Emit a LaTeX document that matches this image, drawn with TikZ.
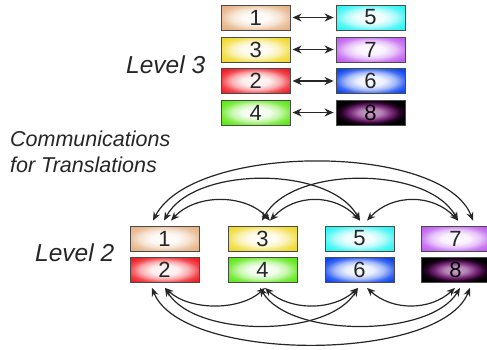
\documentclass[tikz,border=0pt]{standalone}
\usepackage{fontspec}
\setmainfont{Liberation Sans}
\usetikzlibrary{arrows.meta}
\definecolor{c1}{HTML}{E6B488}
\definecolor{c5}{HTML}{30F4F4}
\definecolor{c3}{HTML}{F0DA30}
\definecolor{c7}{HTML}{C060F0}
\definecolor{c2}{HTML}{F02028}
\definecolor{c6}{HTML}{1048F0}
\definecolor{c4}{HTML}{60E818}
\definecolor{c8mid}{HTML}{C8A0C8}
\definecolor{c8ring}{HTML}{7A2A7A}
\definecolor{c8dark}{HTML}{2A042A}
\definecolor{bordergray}{HTML}{4A4A4A}
\definecolor{txtgray}{HTML}{262626}
\colorlet{boxcol}{c1}
\pgfdeclareradialshading[boxcol]{boxrad}{\pgfpoint{0bp}{0bp}}{color(0bp)=(boxcol!3!white); color(10bp)=(boxcol!8!white); color(18bp)=(boxcol!38!white); color(25bp)=(boxcol!82!white); color(31bp)=(boxcol); color(50bp)=(boxcol)}
\pgfdeclareradialshading{blackrad}{\pgfpoint{0bp}{0bp}}{color(0bp)=(c8mid); color(8bp)=(c8mid!75!c8ring); color(15bp)=(c8ring); color(21bp)=(c8dark); color(26bp)=(black); color(50bp)=(black)}
\begin{document}
\begin{tikzpicture}[x=1pt,y=-1pt,
  box/.style={draw=bordergray, line width=0.8pt, minimum width=69pt, minimum height=25pt,
    inner sep=0pt, font=\fontsize{22}{22}\selectfont, text=txtgray},
  shf/.style={/utils/exec={\colorlet{boxcol}{#1}}, shading=boxrad},
  shblack/.style={shading=blackrad},
  dbl/.style={line width=1.3pt, {Stealth[length=9pt,width=8pt]}-{Stealth[length=9pt,width=8pt]}, shorten <=2pt, shorten >=2pt, draw=txtgray},
  arc/.style={line width=1.2pt, draw=txtgray, {Stealth[length=8.5pt,width=7pt]}-{Stealth[length=8.5pt,width=7pt]}},
  lbl/.style={inner sep=0pt, anchor=base west, text=txtgray, font=\fontsize{24.5}{24.5}\selectfont\itshape},
  lblsmall/.style={inner sep=0pt, anchor=base west, text=txtgray, font=\fontsize{21.5}{21.5}\selectfont\itshape}
]
\useasboundingbox (0,0) rectangle (487,349);

% Level 3
\node[box,shf=c1] (t1) at (255.7,17.5) {1};
\node[box,shf=c5] (t5) at (370.5,17.5) {5};
\node[box,shf=c3] (t3) at (255.7,49.5) {3};
\node[box,shf=c7] (t7) at (370.5,49.5) {7};
\node[box,shf=c2] (t2) at (255.7,81) {2};
\node[box,shf=c6] (t6) at (370.5,81) {6};
\node[box,shf=c4] (t4) at (255.7,112.5) {4};
\node[box,shblack,text=black] (t8) at (370.5,112.5) {8};
\draw[dbl] (t1) -- (t5);
\draw[dbl] (t3) -- (t7);
\draw[dbl] (t2) -- (t6);
\draw[dbl] (t4) -- (t8);

\node[lbl] (lv3) at (126,73.3) {Level 3};
\node[lblsmall] (cm1) at (10,146.7) {Communications};
\node[lblsmall] (cm2) at (10,172.3) {for Translations};
\node[lbl] (lv2) at (35,261.7) {Level 2};

% Level 2
\node[box,shf=c1] (b1) at (164.5,238.5) {1};
\node[box,shf=c3] (b3) at (262.5,238.5) {3};
\node[box,shf=c5] (b5) at (359.5,238.5) {5};
\node[box,shf=c7] (b7) at (455.5,238.5) {7};
\node[box,shf=c2] (b2) at (164.5,270) {2};
\node[box,shf=c4] (b4) at (262.5,270) {4};
\node[box,shf=c6] (b6) at (359.5,270) {6};
\node[box,shblack,text=black] (b8) at (455.5,270) {8};

% top arcs
\draw[arc] ([xshift=-11.5pt,yshift=5pt]b1.north) .. controls +(40,-78) and +(-30,-78) .. ([xshift=17.5pt,yshift=5pt]b7.north);
\draw[arc] ([xshift=-0.5pt,yshift=5pt]b1.north) .. controls +(30,-55) and +(-30,-55) .. ([xshift=0.5pt,yshift=5pt]b5.north);
\draw[arc] ([xshift=-0.5pt,yshift=5pt]b3.north) .. controls +(30,-55) and +(-30,-55) .. ([xshift=2.5pt,yshift=5pt]b7.north);
\draw[arc] ([xshift=6.5pt,yshift=5pt]b1.north) .. controls +(25,-27) and +(-25,-27) .. ([xshift=7.5pt,yshift=5pt]b3.north);
\draw[arc] ([xshift=7.5pt,yshift=5pt]b3.north) .. controls +(25,-27) and +(-25,-27) .. ([xshift=0.5pt,yshift=5pt]b5.north);
\draw[arc] ([xshift=7.5pt,yshift=5pt]b5.north) .. controls +(25,-27) and +(-25,-27) .. ([xshift=2.5pt,yshift=5pt]b7.north);

% bottom arcs
\draw[arc] ([xshift=-12.5pt,yshift=-5pt]b2.south) .. controls +(30,75) and +(-30,75) .. ([xshift=14.5pt,yshift=-5pt]b8.south);
\draw[arc] ([xshift=0.5pt,yshift=-5pt]b2.south) .. controls +(30,50) and +(-30,50) .. ([xshift=-1.5pt,yshift=-5pt]b6.south);
\draw[arc] ([xshift=-2.5pt,yshift=-5pt]b4.south) .. controls +(30,50) and +(-30,50) .. ([xshift=4.5pt,yshift=-5pt]b8.south);
\draw[arc] ([xshift=0.5pt,yshift=-5pt]b2.south) .. controls +(25,23) and +(-25,23) .. ([xshift=2.5pt,yshift=-5pt]b4.south);
\draw[arc] ([xshift=2.5pt,yshift=-5pt]b4.south) .. controls +(25,23) and +(-25,23) .. ([xshift=-1.5pt,yshift=-5pt]b6.south);
\draw[arc] ([xshift=7.5pt,yshift=-5pt]b6.south) .. controls +(25,23) and +(-25,23) .. ([xshift=-0.5pt,yshift=-5pt]b8.south);
\end{tikzpicture}
\end{document}
